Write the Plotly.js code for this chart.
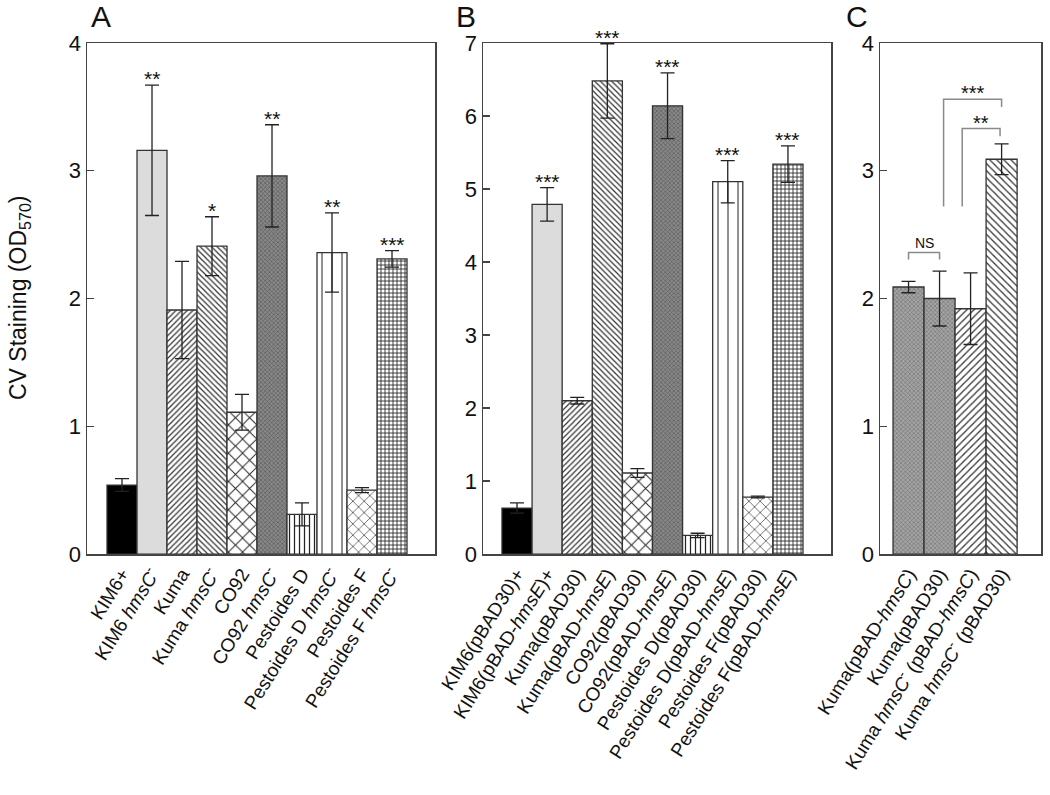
<!DOCTYPE html>
<html>
<head>
<meta charset="utf-8">
<script src="https://cdn.plot.ly/plotly-3.0.1.min.js"></script>
<style>html,body{margin:0;padding:0;background:#fff;}#chart{width:1050px;height:795px;}</style>
</head>
<body>
<div id="chart"></div>
<script>
// ---------- data ----------
const labelsA = ['KIM6+', 'KIM6 <i>hmsC</i><sup>-</sup>', 'Kuma', 'Kuma <i>hmsC</i><sup>-</sup>', 'CO92',
  'CO92 <i>hmsC</i><sup>-</sup>', 'Pestoides D', 'Pestoides D <i>hmsC</i><sup>-</sup>', 'Pestoides F',
  'Pestoides F <i>hmsC</i><sup>-</sup>'];
const valuesA = [0.54, 3.16, 1.91, 2.41, 1.11, 2.96, 0.31, 2.36, 0.50, 2.31];
const errorsA = [0.05, 0.51, 0.38, 0.23, 0.14, 0.40, 0.09, 0.31, 0.02, 0.065];
const starsA = ['', '**', '', '*', '', '**', '', '**', '', '***'];

const labelsB = ['KIM6(pBAD30)+', 'KIM6(pBAD-<i>hmsE</i>)+', 'Kuma(pBAD30)', 'Kuma(pBAD-<i>hmsE</i>)',
  'CO92(pBAD30)', 'CO92(pBAD-<i>hmsE</i>)', 'Pestoides D(pBAD30)', 'Pestoides D(pBAD-<i>hmsE</i>)',
  'Pestoides F(pBAD30)', 'Pestoides F(pBAD-<i>hmsE</i>)'];
const valuesB = [0.63, 4.79, 2.10, 6.48, 1.11, 6.14, 0.255, 5.10, 0.78, 5.34];
const errorsB = [0.07, 0.23, 0.045, 0.51, 0.06, 0.45, 0.03, 0.29, 0.012, 0.25];
const starsB = ['', '***', '', '***', '', '***', '', '***', '', '***'];

const labelsC = ['Kuma(pBAD-<i>hmsC</i>)', 'Kuma(pBAD30)', 'Kuma <i>hmsC</i><sup>-</sup> (pBAD-<i>hmsC</i>)',
  'Kuma <i>hmsC</i><sup>-</sup> (pBAD30)'];
const valuesC = [2.09, 2.00, 1.92, 3.09];
const errorsC = [0.045, 0.215, 0.28, 0.12];

// comparison brackets in panel C: [from index, to index, left foot, right foot, top, label]
const bracketsC = [
  [0, 1, 2.305, 2.305, 2.36, 'NS'],
  [1.13, 3, 2.72, 3.50, 3.56, '***'],
  [1.73, 2.95, 2.72, 3.27, 3.33, '**']
];

// ---------- styles ----------
const FONT = 'Liberation Sans, Arial, sans-serif';
// per-bar fill styles: [pattern shape, size, solidity, background, foreground]
const stylesAB = [
  ['', 8, 0.3, '#000000', '#000'],
  ['', 8, 0.3, '#dcdcdc', '#000'],
  ['/', 4, 0.3, '#ffffff', '#333'],
  ['\\', 4, 0.3, '#ffffff', '#333'],
  ['x', 10, 0.18, '#ffffff', '#222'],
  ['x', 3, 0.35, '#888888', '#555'],
  ['|', 5, 0.25, '#ffffff', '#222'],
  ['|', 10, 0.1, '#ffffff', '#222'],
  ['x', 8, 0.15, '#ffffff', '#222'],
  ['+', 4, 0.35, '#ffffff', '#111']
];
const stylesC = [
  ['x', 3, 0.3, '#a4a4a4', '#666'],
  ['x', 3, 0.3, '#a4a4a4', '#666'],
  ['/', 5, 0.25, '#ffffff', '#333'],
  ['\\', 5, 0.25, '#ffffff', '#333']
];

const data = [];
function addBars(vals, errs, styles, xa, ya) {
  vals.forEach((v, i) => {
    const st = styles[i];
    const marker = {color: st[3], line: {color: '#333', width: 1.3}};
    if (st[0]) marker.pattern = {shape: st[0], size: st[1], solidity: st[2], fgcolor: st[4], bgcolor: st[3], fillmode: 'replace'};
    data.push({
      type: 'bar', x: [i], y: [v], xaxis: xa, yaxis: ya,
      width: 1, showlegend: false, hoverinfo: 'y', marker: marker,
      error_y: {type: 'data', array: [errs[i]], visible: true, color: '#222', thickness: 1.3, width: 7}
    });
  });
}
addBars(valuesA, errorsA, stylesAB, 'x', 'y');
addBars(valuesB, errorsB, stylesAB, 'x2', 'y2');
addBars(valuesC, errorsC, stylesC, 'x3', 'y3');

function idx(n) { return Array.from({length: n}, (_, i) => i); }
const yDom = [0.3031, 0.9459];
function xAxis(dom, range, labels, anchor) {
  return {
    domain: dom, range: range, anchor: anchor,
    tickmode: 'array', tickvals: idx(labels.length), ticktext: labels,
    tickangle: -58, ticks: '', showgrid: false, zeroline: false,
    showline: true, mirror: true, linecolor: '#444', linewidth: 1.5,
    tickfont: {family: FONT, size: 19, color: '#111'}, automargin: false
  };
}
function yAxis(range, anchor) {
  return {
    domain: yDom, range: range, anchor: anchor, dtick: 1, tick0: 0,
    ticks: 'inside', ticklen: 7, tickcolor: '#444', tickwidth: 1.3,
    showgrid: false, zeroline: false, showline: true, mirror: true,
    linecolor: '#444', linewidth: 1.5,
    tickfont: {family: FONT, size: 22, color: '#111'}, automargin: false
  };
}

const annotations = [];
function addStars(vals, errs, stars, xa, ya) {
  stars.forEach((s, i) => {
    if (!s) return;
    annotations.push({x: i, y: vals[i] + errs[i], xref: xa, yref: ya, text: s, showarrow: false,
      yanchor: 'bottom', yshift: -7, font: {family: FONT, size: 21, color: '#111'}});
  });
}
addStars(valuesA, errorsA, starsA, 'x', 'y');
addStars(valuesB, errorsB, starsB, 'x2', 'y2');

const shapes = [];
bracketsC.forEach(b => {
  const [x0, x1, f0, f1, top, lab] = b;
  shapes.push({type: 'path', xref: 'x3', yref: 'y3',
    path: `M ${x0} ${f0} L ${x0} ${top} L ${x1} ${top} L ${x1} ${f1}`,
    line: {color: '#8a8a8a', width: 1.5}});
  annotations.push({x: (x0 + x1) / 2, y: top, xref: 'x3', yref: 'y3', text: lab, showarrow: false,
    yanchor: 'bottom', yshift: lab === 'NS' ? 0 : -7,
    font: {family: FONT, size: lab === 'NS' ? 14 : 20, color: '#111'}});
});

// panel letters and y title
[['A', 101], ['B', 466], ['C', 857]].forEach(p => {
  annotations.push({x: p[1] / 1050, y: 1, xref: 'paper', yref: 'paper', text: p[0],
    showarrow: false, xanchor: 'center', yanchor: 'top', yshift: 2, font: {family: FONT, size: 30, color: '#111'}});
});
annotations.push({x: 20 / 1050, y: 1 - 298 / 795, xref: 'paper', yref: 'paper',
  text: 'CV Staining (OD<sub>570</sub>)', textangle: -90, showarrow: false,
  xanchor: 'center', yanchor: 'middle', font: {family: FONT, size: 23, color: '#111'}});

const layout = {
  width: 1050, height: 795, margin: {l: 0, r: 0, t: 0, b: 0},
  paper_bgcolor: '#fff', plot_bgcolor: '#fff', bargap: 0, barmode: 'overlay',
  xaxis: xAxis([87 / 1050, 435 / 1050], [-1.167, 10.433], labelsA, 'y'),
  yaxis: yAxis([0, 4], 'x'),
  xaxis2: xAxis([483 / 1050, 831 / 1050], [-1.13, 10.43], labelsB, 'y2'),
  yaxis2: yAxis([0, 7], 'x2'),
  xaxis3: xAxis([880 / 1050, 1041 / 1050], [-0.92, 4.27], labelsC, 'y3'),
  yaxis3: yAxis([0, 4], 'x3'),
  annotations: annotations, shapes: shapes
};

Plotly.newPlot('chart', data, layout, {displayModeBar: false, staticPlot: true});
</script>
</body>
</html>
